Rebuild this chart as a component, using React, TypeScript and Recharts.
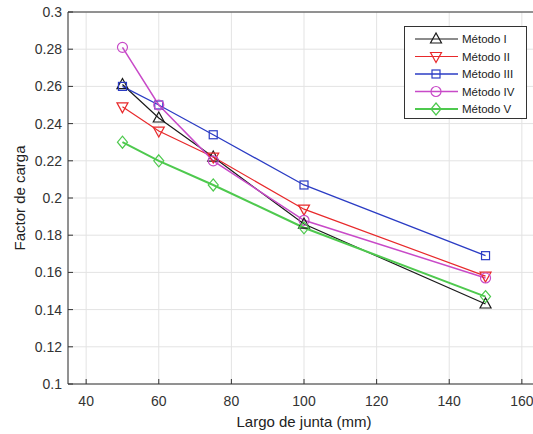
import React from "react";
import { LineChart, Line, XAxis, YAxis, CartesianGrid, Legend } from "recharts";

const largoJunta = [50, 60, 75, 100, 150];
const metodoI = [0.261, 0.243, 0.222, 0.186, 0.143];
const metodoII = [0.249, 0.236, 0.222, 0.194, 0.158];
const metodoIII = [0.26, 0.25, 0.234, 0.207, 0.169];
const metodoIV = [0.281, 0.25, 0.22, 0.188, 0.157];
const metodoV = [0.23, 0.22, 0.207, 0.184, 0.147];

const xTicks = [40, 60, 80, 100, 120, 140, 160];
const yTicks = [0.1, 0.12, 0.14, 0.16, 0.18, 0.2, 0.22, 0.24, 0.26, 0.28, 0.3];

const seriesNames = ["Método I", "Método II", "Método III", "Método IV", "Método V"];

const data = largoJunta.map((x, i) => ({
  x,
  m1: metodoI[i],
  m2: metodoII[i],
  m3: metodoIII[i],
  m4: metodoIV[i],
  m5: metodoV[i],
}));

type Shape = "tri" | "triDown" | "square" | "circle" | "diamond";

const series: { key: string; name: string; color: string; shape: Shape; width: number }[] = [
  { key: "m1", name: seriesNames[0], color: "#1a1a1a", shape: "tri", width: 1.2 },
  { key: "m2", name: seriesNames[1], color: "#e8292b", shape: "triDown", width: 1.2 },
  { key: "m3", name: seriesNames[2], color: "#2b3cc4", shape: "square", width: 1.3 },
  { key: "m4", name: seriesNames[3], color: "#c84ac8", shape: "circle", width: 1.5 },
  { key: "m5", name: seriesNames[4], color: "#4ec94e", shape: "diamond", width: 2 },
];

function Marker({ cx, cy, shape, color }: { cx: number; cy: number; shape: Shape; color: string }) {
  const common = { fill: "none", stroke: color, strokeWidth: 1.2 };
  switch (shape) {
    case "tri":
      return <polygon points={`${cx},${cy - 6} ${cx - 5.5},${cy + 4} ${cx + 5.5},${cy + 4}`} {...common} />;
    case "triDown":
      return <polygon points={`${cx},${cy + 6} ${cx - 5.5},${cy - 4} ${cx + 5.5},${cy - 4}`} {...common} />;
    case "square":
      return <rect x={cx - 4} y={cy - 4} width={8} height={8} {...common} />;
    case "circle":
      return <circle cx={cx} cy={cy} r={5} {...common} />;
    case "diamond":
      return <polygon points={`${cx},${cy - 6} ${cx + 5},${cy} ${cx},${cy + 6} ${cx - 5},${cy}`} {...common} />;
  }
  return null;
}

const fmt = (v: number) => String(Number(v.toFixed(2)));

const LegendBox = () => (
  <svg width={123} height={93} style={{ display: "block" }}>
    <rect x={0.5} y={0.5} width={122} height={92} fill="#fff" stroke="#333" strokeWidth={1} />
    {series.map((s, i) => {
      const y = 13 + i * 17.5;
      return (
        <g key={s.key}>
          <line x1={11} x2={54} y1={y} y2={y} stroke={s.color} strokeWidth={s.width} />
          <Marker cx={32} cy={y} shape={s.shape} color={s.color} />
          <text x={58} y={y + 4} fontSize={11.5} fill="#222" fontFamily="Liberation Sans, Arial, sans-serif">
            {s.name}
          </text>
        </g>
      );
    })}
  </svg>
);

export default function App() {
  return (
    <div style={{ position: "absolute", left: 0, top: 0, width: 533, height: 434, overflow: "hidden", background: "#fff" }}>
      <LineChart
        width={545}
        height={434}
        data={data}
        margin={{ top: 11, right: 5, bottom: 0, left: 0 }}
        style={{ fontFamily: "Liberation Sans, Arial, sans-serif" }}
      >
        <CartesianGrid stroke="#e3e3e3" strokeWidth={1} />
        <XAxis
          dataKey="x"
          type="number"
          domain={[35, 165]}
          ticks={xTicks}
          allowDataOverflow
          height={50}
          tickSize={-5}
          tickMargin={17}
          stroke="#333"
          tick={{ fill: "#333", fontSize: 14 }}
          label={{
            content: (p: any) => {
              const vb = p.viewBox || {};
              return (
                <text x={vb.x + vb.width / 2} y={427} textAnchor="middle" fontSize={15} fill="#222">
                  Largo de junta (mm)
                </text>
              );
            },
          }}
        />
        <XAxis
          xAxisId="top"
          dataKey="x"
          type="number"
          orientation="top"
          domain={[35, 165]}
          ticks={xTicks}
          allowDataOverflow
          height={1}
          tickSize={-5}
          tick={false}
          stroke="#333"
        />
        <YAxis
          type="number"
          domain={[0.1, 0.3]}
          ticks={yTicks}
          allowDataOverflow
          width={68}
          tickSize={-5}
          tickMargin={11}
          stroke="#333"
          tickFormatter={fmt}
          tick={{ fill: "#333", fontSize: 14 }}
          label={{
            content: (p: any) => {
              const vb = p.viewBox || {};
              const cx = 25;
              const cy = vb.y + vb.height / 2;
              return (
                <text x={cx} y={cy} textAnchor="middle" fontSize={15} fill="#222" transform={`rotate(-90 ${cx} ${cy})`}>
                  Factor de carga
                </text>
              );
            },
          }}
        />
        <Legend
          layout="vertical"
          align="center"
          verticalAlign="middle"
          content={() => <LegendBox />}
          wrapperStyle={{ left: 404, top: 26, width: 123, height: 93 }}
        />
        {series.map((s) => (
          <Line
            key={s.key}
            dataKey={s.key}
            name={s.name}
            stroke={s.color}
            strokeWidth={s.width}
            isAnimationActive={false}
            dot={(p: any) => <Marker key={`${s.key}-${p.index}`} cx={p.cx} cy={p.cy} shape={s.shape} color={s.color} />}
            activeDot={false}
          />
        ))}
      </LineChart>
    </div>
  );
}
